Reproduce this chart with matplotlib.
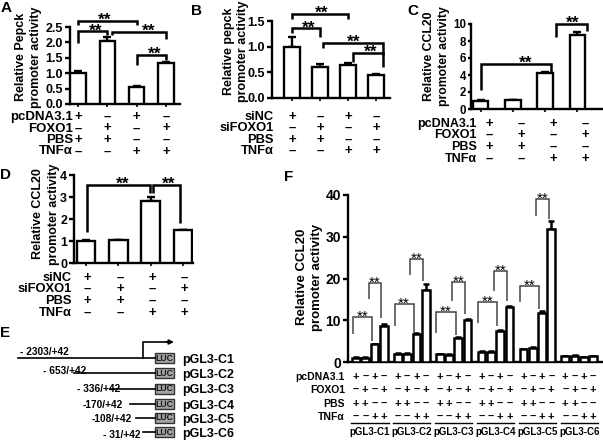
import matplotlib
matplotlib.use('Agg')
import matplotlib.pyplot as plt
from matplotlib.transforms import ScaledTranslation, blended_transform_factory
from matplotlib.patches import Rectangle
import numpy as np

plt.rcParams['font.family'] = ['Liberation Sans', 'DejaVu Sans']
plt.rcParams['font.weight'] = 'bold'

# ---------------- data ----------------
a_vals = [1.0, 2.03, 0.55, 1.32]
a_err = [0.06, 0.13, 0.02, 0.04]
b_vals = [1.0, 0.61, 0.65, 0.45]
b_err = [0.18, 0.05, 0.03, 0.02]
c_vals = [1.0, 1.05, 4.2, 8.7]
c_err = [0.03, 0.03, 0.1, 0.4]
d_vals = [1.02, 1.03, 2.8, 1.5]
d_err = [0.04, 0.03, 0.2, 0.02]

f_groups = ['pGL3-C1', 'pGL3-C2', 'pGL3-C3', 'pGL3-C4', 'pGL3-C5', 'pGL3-C6']
f_vals = [[1.0, 1.0, 4.2, 8.7],
          [2.0, 2.0, 6.8, 17.2],
          [1.8, 1.7, 5.8, 10.0],
          [2.5, 2.5, 7.4, 13.1],
          [3.0, 3.3, 11.8, 31.8],
          [1.4, 1.5, 1.1, 1.4]]
f_err = [[0.1, 0.1, 0.2, 0.3],
         [0.1, 0.1, 0.2, 1.6],
         [0.1, 0.1, 0.2, 0.3],
         [0.1, 0.1, 0.2, 0.3],
         [0.1, 0.2, 0.3, 2.0],
         [0.1, 0.1, 0.1, 0.1]]

rows_ox = ['pcDNA3.1', 'FOXO1', 'PBS', 'TNF\u03b1']
rows_si = ['siNC', 'siFOXO1', 'PBS', 'TNF\u03b1']
signs = [['+', '\u2013', '+', '\u2013'],
         ['\u2013', '+', '\u2013', '+'],
         ['+', '+', '\u2013', '\u2013'],
         ['\u2013', '\u2013', '+', '+']]

e_ranges = ['- 2303/+42', '- 653/+42', '- 336/+42', '-170/+42', '-108/+42', '- 31/+42']
e_names = ['pGL3-C1', 'pGL3-C2', 'pGL3-C3', 'pGL3-C4', 'pGL3-C5', 'pGL3-C6']

# ---------------- figure ----------------
W, H = 603, 443
fig = plt.figure(figsize=(W / 100, H / 100), dpi=100)


def add_ax(x0, y0, x1, y1):
    return fig.add_axes([x0 / W, 1 - y1 / H, (x1 - x0) / W, (y1 - y0) / H])


ov = fig.add_axes([0, 0, 1, 1], zorder=10)
ov.set_xlim(0, W)
ov.set_ylim(H, 0)
ov.axis('off')

LW = 1.7


def style(ax, yticks, fs, xt, tlen=3.5, pad=1.5):
    for s in ['top', 'right']:
        ax.spines[s].set_visible(False)
    for s in ['left', 'bottom']:
        ax.spines[s].set_linewidth(LW)
    ax.set_yticks(yticks)
    ax.set_xticks(xt)
    ax.set_xticklabels([])
    ax.tick_params(axis='y', direction='out', length=tlen, width=LW, labelsize=fs, pad=pad)
    ax.tick_params(axis='x', direction='out', length=2.5, width=1.2)
    ax.patch.set_alpha(0)


def bars(ax, x, vals, err, width, lw=LW, cap=3):
    ax.bar(x, vals, width, color='white', edgecolor='black', linewidth=lw, zorder=3)
    ax.errorbar(x, vals, yerr=[np.zeros(len(vals)), err], fmt='none', ecolor='black',
                elinewidth=lw, capsize=cap, capthick=lw, zorder=2)


def bracket(ax, x1, x2, y, y1b, y2b, fs, lw=1.8, color='black', weight='bold',
            txc=None, up_px=6):
    ax.plot([x1, x1, x2, x2], [y1b, y, y, y2b], color=color, lw=lw, clip_on=False,
            solid_joinstyle='miter', solid_capstyle='butt', zorder=5)
    xc = (x1 + x2) / 2 if txc is None else txc
    em_px = fs * 100 / 72
    dy = up_px - 0.56 * em_px
    tr = ax.transData + ScaledTranslation(0, dy / 100, fig.dpi_scale_trans)
    ax.text(xc, y, '**', transform=tr, ha='center', va='baseline', fontsize=fs,
            fontweight=weight, clip_on=False, color='black')


def table(ax, xs, rows_y, labels, label_x, fs_lab, fs_sym, pattern, xoff=0.0):
    tr = blended_transform_factory(ax.transData, fig.transFigure)
    for r, (lab, y) in enumerate(zip(labels, rows_y)):
        ov.text(label_x, y, lab, ha='right', va='center', fontsize=fs_lab, fontweight='bold')
        for x, s in zip(xs, pattern[r]):
            ax.text(x + xoff, 1 - y / H, s, transform=tr, ha='center', va='center',
                    fontsize=fs_sym, fontweight='bold', clip_on=False)


def ylab(x1, x2, yc, l1, l2, fs):
    ov.text(x1, yc, l1, rotation=90, ha='center', va='center', fontsize=fs, fontweight='bold')
    ov.text(x2, yc, l2, rotation=90, ha='center', va='center', fontsize=fs, fontweight='bold')


def letter(x, y, s):
    ov.text(x, y, s, ha='left', va='top', fontsize=11, fontweight='bold')


x4 = np.arange(4)
SF = 12.5

# ---------------- A ----------------
axA = add_ax(70, 27, 180, 104)
axA.set_ylim(0, 2.5)
axA.set_xlim(-0.27, 3.48)
bars(axA, x4, a_vals, a_err, 0.52)
style(axA, [0, 0.5, 1.0, 1.5, 2.0, 2.5], 9, x4)
axA.set_yticklabels(['0.0', '0.5', '1.0', '1.5', '2.0', '2.5'])
bracket(axA, 0, 2, 2.69, 2.58, 2.58, SF, txc=0.92)
bracket(axA, 0, 1, 2.37, 1.99, 2.24, SF, txc=0.62, up_px=5)
bracket(axA, 1.15, 3, 2.33, 2.24, 2.1, SF, txc=2.4)
bracket(axA, 2.0, 3, 1.59, 1.27, 1.43, SF, txc=2.63)
table(axA, x4, [117, 128.5, 140, 151.5], rows_ox, 73, 9.5, 9.5, signs)
ylab(21, 36, 57, 'Relative Pepck', 'promoter activity', 9)
letter(1, 1, 'A')

# ---------------- B ----------------
axB = add_ax(272, 21, 390, 98)
axB.set_ylim(0, 1.5)
axB.set_xlim(-0.71, 3.5)
bars(axB, x4, b_vals, b_err, 0.55)
style(axB, [0, 0.5, 1.0, 1.5], 9, x4)
axB.set_yticklabels(['0.0', '0.5', '1.0', '1.5'])
bracket(axB, 0, 2, 1.64, 1.53, 1.53, SF, txc=1.07)
bracket(axB, 0, 1, 1.36, 1.27, 1.19, SF, txc=0.6, up_px=5)
bracket(axB, 1.1, 3.25, 1.08, 0.98, 0.84, SF, txc=2.2)
bracket(axB, 2.18, 3.25, 0.88, 0.70, 0.60, SF, txc=2.8)
table(axB, x4, [117, 128, 140, 151], rows_si, 274, 9.3, 9.5, signs)
ylab(229, 243, 51, 'Relative pepck', 'promoter activity', 9)
letter(191, 4, 'B')

# ---------------- C ----------------
axC = add_ax(471, 24, 603, 109)
axC.set_ylim(0, 10)
axC.set_xlim(-0.31, 3.81)
bars(axC, x4, c_vals, c_err, 0.47)
style(axC, [0, 2, 4, 6, 8, 10], 8.3, x4, tlen=2.5, pad=0.8)
bracket(axC, 0, 2.2, 5.3, 2.2, 4.4, SF, txc=1.4)
bracket(axC, 2.35, 3.3, 10.0, 8.5, 9.2, SF, txc=2.86)
table(axC, x4, [124, 135, 147, 159], rows_ox, 477, 9, 9.5, signs, xoff=0.25)
ylab(429, 444, 56, 'Relative CCL20', 'promoter activity', 8.8)
letter(407, 4, 'C')

# ---------------- D ----------------
axD = add_ax(74, 175, 193, 263)
axD.set_ylim(0, 4)
axD.set_xlim(-0.37, 3.31)
bars(axD, x4, d_vals, d_err, 0.58)
style(axD, [0, 1, 2, 3, 4], 9, x4)
bracket(axD, 0.03, 1.98, 3.55, 1.4, 3.18, SF, txc=1.12)
bracket(axD, 2.07, 2.9, 3.55, 3.18, 1.8, SF, txc=2.55)
table(axD, x4, [278, 289, 301, 313], rows_si, 72, 9.3, 9.5, signs, xoff=0.05)
ylab(38, 54, 214, 'Relative CCL20', 'promoter activity', 9)
letter(0, 168, 'D')

# ---------------- E (schematic) ----------------
letter(0, 326, 'E')
e_rows = [358, 373, 388.5, 404, 417.5, 432]
e_line_start = [18, 74, 110, 130, 136, 143]
e_lab_x = [20, 43, 77, 83, 92, 103]
e_lab_y = [352, 371, 389, 405, 419, 435]
box_x, box_w, box_h = 155, 19, 10
for i in range(6):
    y = e_rows[i]
    ov.plot([e_line_start[i], box_x], [y, y], color='black', lw=1.2)
    ov.add_patch(Rectangle((box_x, y - box_h / 2), box_w, box_h, facecolor='#a3a3a3',
                           edgecolor='#333333', lw=1.0))
    ov.text(box_x + box_w / 2, y + 0.3, 'LUC', ha='center', va='center', fontsize=6.3,
            fontweight='bold', color='#1a1a1a')
    ov.text(e_lab_x[i], e_lab_y[i], e_ranges[i], ha='left', va='center', fontsize=7.3,
            fontweight='bold')
    ov.text(182, y + 2, e_names[i], ha='left', va='center', fontsize=9, fontweight='bold')
ov.plot([143, 143, 168], [358, 342, 342], color='black', lw=1.2)
ov.annotate('', xy=(174, 342), xytext=(166, 342),
            arrowprops=dict(arrowstyle='-|>', color='black', lw=1.2, mutation_scale=7,
                            shrinkA=0, shrinkB=0))

# ---------------- F ----------------
axF = add_ax(348, 195, 602, 362)
axF.set_ylim(0, 40)
axF.set_xlim(-0.86, 26.45)
fx = []
for g in range(6):
    xs = g * 4.5 + x4
    fx.append(xs)
    bars(axF, xs, f_vals[g], f_err[g], 0.82, lw=1.8, cap=2.5)
style(axF, [0, 10, 20, 30, 40], 10, np.concatenate(fx))
axF.tick_params(axis='x', length=0)

# significance brackets (lower: PBS vs TNF, upper: pcDNA vs FOXO1 under TNF)
f_low = [(10.7, 6.6, 5.0), (13.8, 8.6, 7.3), (11.9, 7.0, 6.5), (14.3, 9.4, 8.6), (18.2, 14.3, 12.6)]
f_up = [(18.9, 15.0, 10.5), (24.6, 20.8, 19.5), (19.1, 14.5, 11.5), (21.8, 17.0, 14.5), (39.0, 35.0, 34.3)]
for g in range(5):
    b = fx[g]
    yl, l1, l2 = f_low[g]
    bracket(axF, b[0] - 0.35, b[2] - 0.3, yl, l1, l2, 11, lw=1.1, color='#444444',
            weight='normal', up_px=5)
    yu, u1, u2 = f_up[g]
    bracket(axF, b[2] - 0.65, b[3] - 0.3, yu, u1, u2, 11, lw=1.1, color='#444444',
            weight='normal', up_px=5)

trF = blended_transform_factory(axF.transData, fig.transFigure)
f_rows_y = [377, 390, 404, 417]
for r, (lab, y) in enumerate(zip(rows_ox, f_rows_y)):
    ov.text(345, y, lab, ha='right', va='center', fontsize=7.5, fontweight='bold')
    for g in range(6):
        for x, s in zip(fx[g], signs[r]):
            axF.text(x, 1 - y / H, s, transform=trF, ha='center', va='center', fontsize=8,
                     fontweight='bold', clip_on=False)
for g in range(6):
    axF.plot([fx[g][0] - 0.5, fx[g][3] + 0.5], [1 - 423 / H] * 2, transform=trF,
             color='black', lw=1.0, clip_on=False)
    axF.text(fx[g].mean(), 1 - 432 / H, f_groups[g], transform=trF, ha='center', va='center',
             fontsize=7, fontweight='bold', clip_on=False)
ylab(302, 317, 277, 'Relative CCL20', 'promoter activity', 9.5)
letter(284, 170, 'F')

fig.savefig('out.png', dpi=100)
